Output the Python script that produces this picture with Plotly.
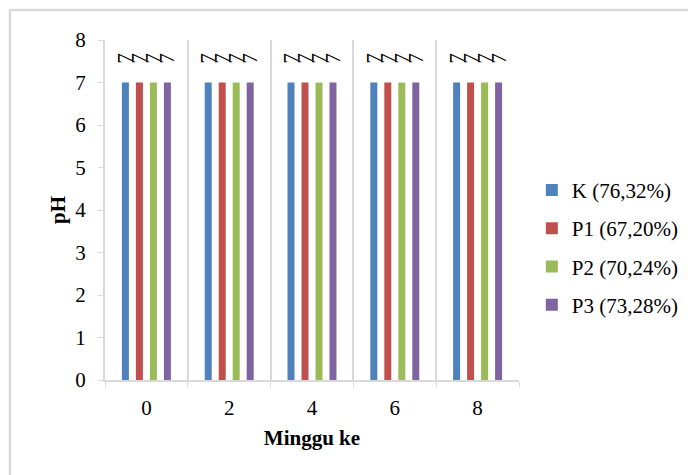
import plotly.graph_objects as go

weeks = ["0", "2", "4", "6", "8"]
series_names = ["K (76,32%)", "P1 (67,20%)", "P2 (70,24%)", "P3 (73,28%)"]
ph_K = [7, 7, 7, 7, 7]
ph_P1 = [7, 7, 7, 7, 7]
ph_P2 = [7, 7, 7, 7, 7]
ph_P3 = [7, 7, 7, 7, 7]
colors = ["#4F81BD", "#C0504D", "#9BBB59", "#8064A2"]

FONT = "'Times New Roman', 'Liberation Serif', serif"
FS = 21
OFF = 8  # page body margin
PX0, PX1, PY0, PY1 = 105, 519, 40, 380.5  # plot area on page
fig = go.Figure()
for i, (name, vals) in enumerate(zip(series_names, [ph_K, ph_P1, ph_P2, ph_P3])):
    fig.add_trace(go.Bar(
        x=weeks, y=vals, name=name, marker_color=colors[i], marker_line_width=0,
        texttemplate="\u00a0\u00a0\u00a0%{y}", textposition="outside", textangle=-90,
        constraintext="none",
        textfont=dict(family=FONT, size=FS, color="black"), cliponaxis=False,
        legendgroup=name,
    ))

fig.update_layout(
    width=696 - OFF, height=475 - OFF,
    margin=dict(l=PX0 - OFF, r=696 - PX1, t=PY0 - OFF, b=475 - PY1),
    paper_bgcolor="white", plot_bgcolor="white",
    barmode="group", bargap=0.324, bargroupgap=0.5,
    font=dict(family=FONT, size=FS, color="black"),
    showlegend=True,
    legend=dict(x=1.031, y=0.389, xanchor="left", yanchor="middle",
                font=dict(family=FONT, size=FS), tracegroupgap=8,
                traceorder="grouped", bgcolor="rgba(0,0,0,0)"),
    xaxis=dict(type="category", tickson="boundaries", showgrid=True,
               gridcolor="#D9D9D9", gridwidth=2, showline=True, linecolor="#D9D9D9",
               linewidth=2, ticks="outside", ticklen=5, tickcolor="#D9D9D9",
               ticklabelstandoff=8,
               title=dict(text="<b>Minggu ke</b>", standoff=11, font=dict(family=FONT, size=FS)),
               tickfont=dict(family=FONT, size=FS)),
    yaxis=dict(range=[0, 8], dtick=1, showgrid=False, showline=True,
               linecolor="#D9D9D9", linewidth=2, ticks="outside", ticklen=5,
               tickcolor="#D9D9D9", zeroline=False, ticklabelstandoff=8,
               title=dict(text="<b>pH</b>", standoff=4, font=dict(family=FONT, size=FS)),
               tickfont=dict(family=FONT, size=FS)),
    shapes=[dict(type="rect", xref="paper", yref="paper",
                 x0=(10 - PX0) / (PX1 - PX0), x1=(720 - PX0) / (PX1 - PX0),
                 y0=(PY1 - 500) / (PY1 - PY0), y1=(PY1 - 10) / (PY1 - PY0),
                 line=dict(color="#D9D9D9", width=2.5), layer="below")],
)
fig.write_html("out.html")
